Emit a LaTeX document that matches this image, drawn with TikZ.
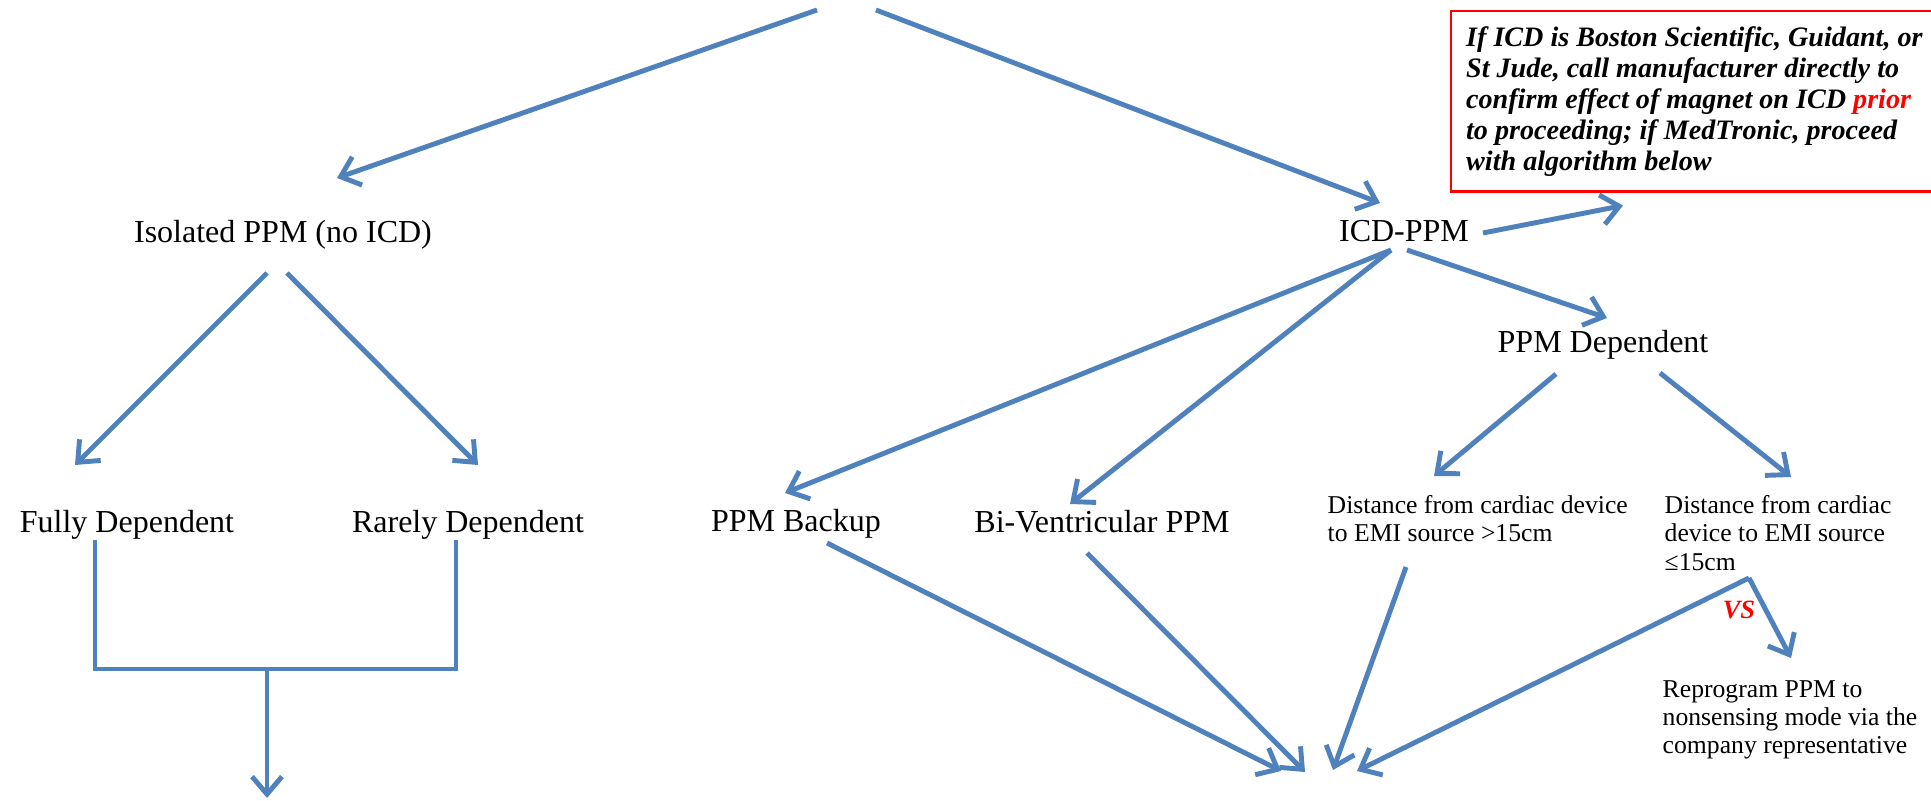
\documentclass[tikz,border=0pt]{standalone}
\usepackage{fontspec}
\setmainfont{Liberation Serif}
\usetikzlibrary{arrows.meta}
\definecolor{flowblue}{RGB}{79,129,189}
\tikzset{
  lbl/.style={inner sep=0pt, anchor=base, font=\fontsize{9.1}{11}\selectfont},
  small/.style={inner sep=0pt, anchor=north west, align=left, font=\fontsize{7.3}{8}\selectfont},
  conn/.style={color=flowblue, line width=1.4pt},
  arr/.style={conn, -{Straight Barb[length=5pt,width=8.5pt]}},
}
\begin{document}
\begin{tikzpicture}[x=0.01cm, y=-0.01cm]
\useasboundingbox (0,0) rectangle (1931,801);
\node[lbl] (iso) at (283,243) {Isolated PPM (no ICD)};
\node[lbl] (icd) at (1404,242) {ICD-PPM};
\node[lbl] (pdep) at (1603,353) {PPM Dependent};
\node[lbl] (full) at (127,533) {Fully Dependent};
\node[lbl] (rare) at (468,533) {Rarely Dependent};
\node[lbl] (backup) at (796,532) {PPM Backup};
\node[lbl] (biv) at (1102,533) {Bi-Ventricular PPM};
\node[small] (far) at (1327,495) {Distance from cardiac device\\to EMI source >15cm};
\node[small] (near) at (1664,495) {Distance from cardiac\\device to EMI source\\≤15cm};
\node[small] (reprog) at (1662,680) {Reprogram PPM to\\nonsensing mode via the\\company representative};
\node[draw=red, line width=0.7pt, anchor=north west, minimum width=4.86cm, minimum height=1.8cm, align=left,
  font=\fontsize{8}{8.8}\selectfont\bfseries\itshape] (note) at (1450,10)
  {If ICD is Boston Scientific, Guidant, or\\St Jude, call manufacturer directly to\\confirm effect of magnet on ICD \textcolor{red}{prior}\\to proceeding; if MedTronic, proceed\\with algorithm below};
\node[text=red, inner sep=0pt, font=\fontsize{7.5}{9}\selectfont\bfseries\itshape] (vs) at (1739,610) {VS};
\coordinate (topl) at (817,10);
\coordinate (topr) at (876,10);
\coordinate (merge) at (267,669);
\coordinate (out) at (267,798);
\coordinate (sinka) at (1281,771);
\coordinate (sinkb) at (1305,772);
\coordinate (sinkc) at (1333,770);
\coordinate (sinkd) at (1357,771);
\coordinate (split) at ([shift={(85,83)}]near.north west);
\draw[arr] (topl) -- ([shift={(54,-65)}]iso.base);
\draw[arr] (topr) -- ([shift={(-24,-39)}]icd.base);
\draw[arr] ([shift={(79,-9)}]icd.base) -- ([shift={(173,13)}]note.south west);
\draw[arr] ([shift={(3,8)}]icd.base) -- ([shift={(4,-35)}]pdep.base);
\draw[arr] ([shift={(-13,8)}]icd.base) -- ([shift={(-11,-39)}]backup.base);
\draw[arr] ([shift={(-13,8)}]icd.base) -- ([shift={(-32,-29)}]biv.base);
\draw[arr] ([shift={(-16,30)}]iso.base) -- ([shift={(-52,-68)}]full.base);
\draw[arr] ([shift={(4,30)}]iso.base) -- ([shift={(10,-68)}]rare.base);
\draw[conn] ([shift={(-32,7)}]full.base) |- (merge) -| ([shift={(-12,7)}]rare.base);
\draw[arr] (merge) -- (out);
\draw[arr] ([shift={(-47,21)}]pdep.base) -- ([shift={(107,-19)}]far.north west);
\draw[arr] ([shift={(57,20)}]pdep.base) -- ([shift={(127,-18)}]near.north west);
\draw[arr] ([shift={(31,11)}]backup.base) -- (sinka);
\draw[arr] ([shift={(-15,20)}]biv.base) -- (sinkb);
\draw[arr] ([shift={(79,72)}]far.north west) -- (sinkc);
\draw[arr] (split) -- (sinkd);
\draw[arr] (split) -- ([shift={(129,-22)}]reprog.north west);
\end{tikzpicture}
\end{document}
